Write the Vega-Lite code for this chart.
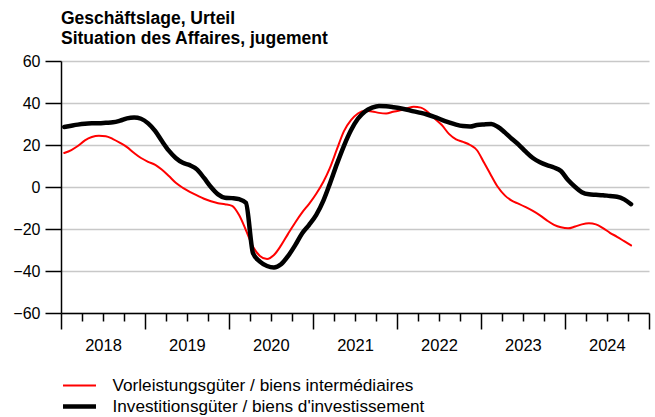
{
  "$schema": "https://vega.github.io/schema/vega-lite/v6.json",
  "autosize": {"type": "none"},
  "padding": {"left": 61, "top": 61, "right": 6, "bottom": 104},
  "width": 588,
  "height": 252,
  "background": "white",
  "config": {
    "view": {"stroke": null},
    "font": "Liberation Sans"
  },
  "title": {
    "text": ["Geschäftslage, Urteil", "Situation des Affaires, jugement"],
    "anchor": "start",
    "frame": "group",
    "font": "Liberation Sans",
    "fontSize": 17.5,
    "fontWeight": "bold",
    "lineHeight": 20,
    "color": "black",
    "offset": 6
  },
  "data": {
    "values": [
      {"d": "2018-01-15", "V": 16.2, "I": 28.6},
      {"d": "2018-02-15", "V": 17.6, "I": 29.2},
      {"d": "2018-03-15", "V": 19.5, "I": 29.7},
      {"d": "2018-04-15", "V": 22.2, "I": 30.1},
      {"d": "2018-05-15", "V": 23.8, "I": 30.3},
      {"d": "2018-06-15", "V": 24.4, "I": 30.4},
      {"d": "2018-07-15", "V": 24.2, "I": 30.6},
      {"d": "2018-08-15", "V": 22.8, "I": 30.8},
      {"d": "2018-09-15", "V": 21.0, "I": 31.6},
      {"d": "2018-10-15", "V": 19.0, "I": 32.7},
      {"d": "2018-11-15", "V": 16.2, "I": 33.1},
      {"d": "2018-12-15", "V": 13.8, "I": 32.5},
      {"d": "2019-01-15", "V": 12.0, "I": 30.3},
      {"d": "2019-02-15", "V": 10.5, "I": 26.6},
      {"d": "2019-03-15", "V": 8.3, "I": 22.0},
      {"d": "2019-04-15", "V": 5.2, "I": 17.3},
      {"d": "2019-05-15", "V": 2.0, "I": 13.8},
      {"d": "2019-06-15", "V": -0.4, "I": 11.5},
      {"d": "2019-07-15", "V": -2.3, "I": 10.4},
      {"d": "2019-08-15", "V": -4.0, "I": 8.4},
      {"d": "2019-09-15", "V": -5.6, "I": 4.3},
      {"d": "2019-10-15", "V": -6.8, "I": 0.0},
      {"d": "2019-11-15", "V": -7.7, "I": -3.5},
      {"d": "2019-12-15", "V": -8.2, "I": -5.1},
      {"d": "2020-01-15", "V": -9.0, "I": -5.3},
      {"d": "2020-02-15", "V": -13.5, "I": -5.8},
      {"d": "2020-03-15", "V": -20.5, "I": -7.5},
      {"d": "2020-04-15", "V": -28.5, "I": -31.5},
      {"d": "2020-05-15", "V": -32.8, "I": -35.5},
      {"d": "2020-06-15", "V": -34.3, "I": -37.6},
      {"d": "2020-07-15", "V": -32.4, "I": -38.3},
      {"d": "2020-08-15", "V": -27.8, "I": -36.8},
      {"d": "2020-09-15", "V": -22.2, "I": -32.8},
      {"d": "2020-10-15", "V": -17.0, "I": -27.8},
      {"d": "2020-11-15", "V": -12.1, "I": -22.0},
      {"d": "2020-12-15", "V": -8.0, "I": -18.0},
      {"d": "2021-01-15", "V": -3.2, "I": -13.3},
      {"d": "2021-02-15", "V": 2.5, "I": -6.5},
      {"d": "2021-03-15", "V": 9.0, "I": 1.5},
      {"d": "2021-04-15", "V": 18.0, "I": 11.0},
      {"d": "2021-05-15", "V": 26.5, "I": 19.5},
      {"d": "2021-06-15", "V": 31.8, "I": 27.0},
      {"d": "2021-07-15", "V": 35.0, "I": 32.5},
      {"d": "2021-08-15", "V": 36.3, "I": 36.0},
      {"d": "2021-09-15", "V": 36.0, "I": 37.8},
      {"d": "2021-10-15", "V": 35.3, "I": 38.6},
      {"d": "2021-11-15", "V": 35.0, "I": 38.4},
      {"d": "2021-12-15", "V": 35.8, "I": 38.0},
      {"d": "2022-01-15", "V": 36.5, "I": 37.5},
      {"d": "2022-02-15", "V": 37.5, "I": 36.8},
      {"d": "2022-03-15", "V": 38.2, "I": 36.0},
      {"d": "2022-04-15", "V": 37.8, "I": 35.3},
      {"d": "2022-05-15", "V": 35.7, "I": 34.4},
      {"d": "2022-06-15", "V": 32.5, "I": 33.3},
      {"d": "2022-07-15", "V": 29.5, "I": 32.0},
      {"d": "2022-08-15", "V": 25.3, "I": 30.8},
      {"d": "2022-09-15", "V": 22.7, "I": 29.7},
      {"d": "2022-10-15", "V": 21.5, "I": 29.0},
      {"d": "2022-11-15", "V": 20.0, "I": 28.8},
      {"d": "2022-12-15", "V": 17.5, "I": 29.5},
      {"d": "2023-01-15", "V": 11.5, "I": 29.8},
      {"d": "2023-02-15", "V": 5.4, "I": 30.0},
      {"d": "2023-03-15", "V": 0.1, "I": 28.7},
      {"d": "2023-04-15", "V": -4.0, "I": 26.0},
      {"d": "2023-05-15", "V": -6.5, "I": 23.0},
      {"d": "2023-06-15", "V": -8.0, "I": 20.1},
      {"d": "2023-07-15", "V": -9.6, "I": 16.8},
      {"d": "2023-08-15", "V": -11.4, "I": 13.8},
      {"d": "2023-09-15", "V": -13.5, "I": 11.8},
      {"d": "2023-10-15", "V": -15.9, "I": 10.4},
      {"d": "2023-11-15", "V": -18.0, "I": 9.3},
      {"d": "2023-12-15", "V": -19.2, "I": 7.6},
      {"d": "2024-01-15", "V": -19.7, "I": 3.3},
      {"d": "2024-02-15", "V": -18.8, "I": 0.0},
      {"d": "2024-03-15", "V": -17.8, "I": -2.5},
      {"d": "2024-04-15", "V": -17.3, "I": -3.5},
      {"d": "2024-05-15", "V": -17.8, "I": -3.7},
      {"d": "2024-06-15", "V": -19.6, "I": -3.9},
      {"d": "2024-07-15", "V": -21.8, "I": -4.3},
      {"d": "2024-08-15", "V": -23.7, "I": -4.6},
      {"d": "2024-09-15", "V": -25.8, "I": -5.9},
      {"d": "2024-10-15", "V": -27.8, "I": -8.2}
    ]
  },
  "transform": [{"fold": ["V", "I"], "as": ["series", "value"]}],
  "mark": {"type": "line", "interpolate": "monotone", "strokeCap": "round", "strokeJoin": "round"},
  "encoding": {
    "x": {
      "field": "d",
      "type": "temporal",
      "scale": {"domain": [{"year": 2018, "month": 1, "date": 1}, {"year": 2025, "month": 1, "date": 1}]},
      "axis": {
        "title": null,
        "grid": false,
        "tickCount": {"interval": "month", "step": 3},
        "tickSize": {"condition": {"test": "month(datum.value) === 0", "value": 16}, "value": 8},
        "tickColor": "black",
        "tickWidth": 1.5,
        "domainColor": "black",
        "domainWidth": 1.5,
        "labelExpr": "month(datum.value) === 0 && year(datum.value) < 2025 ? timeFormat(datum.value, '%Y') : ''",
        "labelOffset": 42,
        "labelFlush": false,
        "labelOverlap": false,
        "labelPadding": 8,
        "labelFontSize": 16.5,
        "labelFont": "Liberation Sans",
        "labelColor": "black"
      }
    },
    "y": {
      "field": "value",
      "type": "quantitative",
      "scale": {"domain": [-60, 60], "nice": false},
      "axis": {
        "title": null,
        "values": [-60, -40, -20, 0, 20, 40, 60],
        "grid": true,
        "gridColor": "#c8c8c8",
        "gridWidth": 1.5,
        "tickSize": 16,
        "tickColor": "black",
        "tickWidth": 1.5,
        "domainColor": "black",
        "domainWidth": 1.5,
        "labelPadding": 5,
        "labelFontSize": 16,
        "labelFont": "Liberation Sans",
        "labelColor": "black"
      }
    },
    "color": {
      "field": "series",
      "type": "nominal",
      "sort": ["V", "I"],
      "scale": {"domain": ["V", "I"], "range": ["#ff0000", "#000000"]},
      "legend": {
        "title": null,
        "orient": "none",
        "legendX": 8,
        "legendY": 315,
        "direction": "vertical",
        "symbolType": "M-2,0H2",
        "symbolSize": 272,
        "labelFontSize": 17.2,
        "labelFont": "Liberation Sans",
        "labelColor": "black",
        "labelOffset": 22.5,
        "labelLimit": 0,
        "rowPadding": 2,
        "padding": 0,
        "labelExpr": "datum.value === 'V' ? 'Vorleistungsgüter / biens intermédiaires' : \"Investitionsgüter / biens d'investissement\""
      }
    },
    "strokeWidth": {
      "field": "series",
      "type": "nominal",
      "sort": ["V", "I"],
      "scale": {"domain": ["V", "I"], "range": [2, 4.5]}
    }
  }
}
